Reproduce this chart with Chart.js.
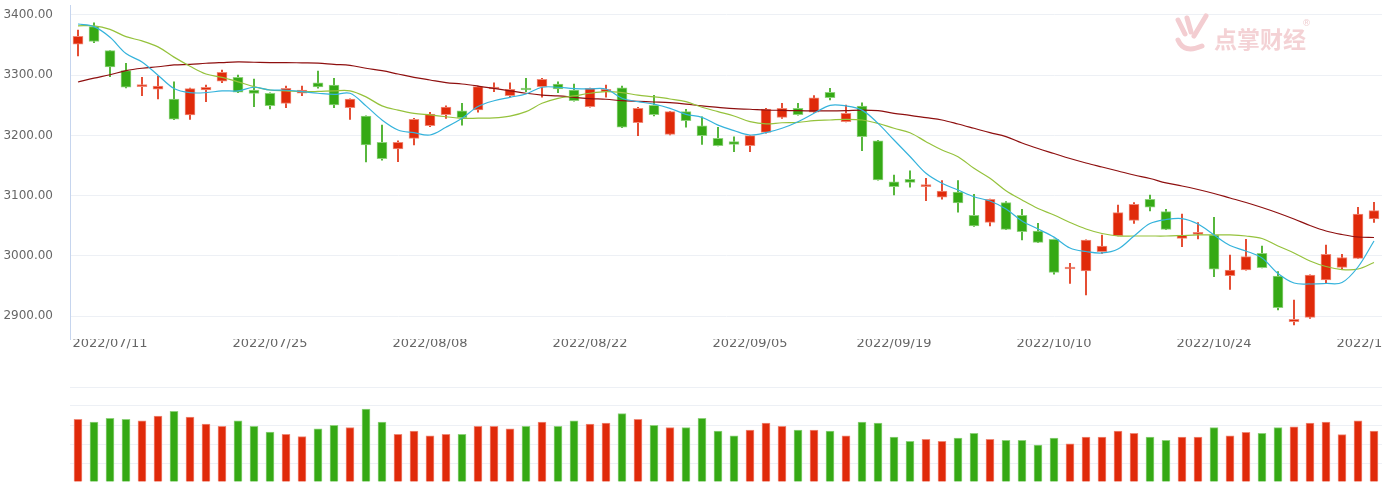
<!DOCTYPE html>
<html>
<head>
<meta charset="utf-8">
<script src="https://cdn.jsdelivr.net/npm/chart.js@4"></script>
<style>
  body { margin: 0; background: #fff; }
  #wrap { position: relative; width: 1383px; height: 482px; overflow: hidden; }
  #priceChart { position: absolute; left: 0; top: 0; }
  #volChart { position: absolute; left: 0; top: 380px; }
  .mark { position: absolute; left: 1172px; top: 12px; width: 140px; height: 44px; pointer-events: none; }
  .mark span { position: absolute; left: 42px; top: 9px; font: bold 23px "Noto Sans CJK SC"; color: #f4d2d5; }
  .mark sup { position: absolute; left: 130px; top: 6px; font: 9px "DejaVu Sans"; color: #f0d0d3; }
</style>
</head>
<body>
<div id="wrap">
  <canvas id="priceChart" width="1383" height="360"></canvas>
  <canvas id="volChart" width="1383" height="102"></canvas>
  <div class="mark">
    <svg width="44" height="44" viewBox="0 0 44 44">
      <g stroke="#f3cdd1" stroke-width="5" stroke-linecap="round" fill="none">
        <path d="M6 8 L13 22"/>
        <path d="M15 6 L19 20"/>
        <path d="M34 4 L22 24"/>
        <path d="M6 28 Q12 42 30 34"/>
      </g>
    </svg>
    <span>点掌财经</span><sup>®</sup>
  </div>
</div>
<script>
// daily candles, 2022/07/07 - 2022/11/07
const dates = [
  "2022/07/07","2022/07/08","2022/07/11","2022/07/12","2022/07/13","2022/07/14","2022/07/15",
  "2022/07/18","2022/07/19","2022/07/20","2022/07/21","2022/07/22","2022/07/25","2022/07/26",
  "2022/07/27","2022/07/28","2022/07/29","2022/08/01","2022/08/02","2022/08/03","2022/08/04",
  "2022/08/05","2022/08/08","2022/08/09","2022/08/10","2022/08/11","2022/08/12","2022/08/15",
  "2022/08/16","2022/08/17","2022/08/18","2022/08/19","2022/08/22","2022/08/23","2022/08/24",
  "2022/08/25","2022/08/26","2022/08/29","2022/08/30","2022/08/31","2022/09/01","2022/09/02",
  "2022/09/05","2022/09/06","2022/09/07","2022/09/08","2022/09/09","2022/09/13","2022/09/14",
  "2022/09/15","2022/09/16","2022/09/19","2022/09/20","2022/09/21","2022/09/22","2022/09/23",
  "2022/09/26","2022/09/27","2022/09/28","2022/09/29","2022/09/30","2022/10/10","2022/10/11",
  "2022/10/12","2022/10/13","2022/10/14","2022/10/17","2022/10/18","2022/10/19","2022/10/20",
  "2022/10/21","2022/10/24","2022/10/25","2022/10/26","2022/10/27","2022/10/28","2022/10/31",
  "2022/11/01","2022/11/02","2022/11/03","2022/11/04","2022/11/07"
];
const tickDates = ["2022/07/11","2022/07/25","2022/08/08","2022/08/22","2022/09/05",
  "2022/09/19","2022/10/10","2022/10/24","2022/11/07"];
const priceTicks = [2900, 3000, 3100, 3200, 3300, 3400];

const openP = [3351.7,3380.6,3340.7,3307.5,3281,3276.6,3260.5,3233.9,3275.4,3289.9,3296.5,3275.4,3270,3253.3,
  3270,3287.5,3283.7,3246,3232,3188.6,3177.7,3195,3216,3234.4,3241,3242.2,3277,3266,3278.2,3281,3285.4,
  3275.4,3247.7,3272.6,3279.2,3221,3250,3201.8,3239.6,3216,3195,3189.6,3182.9,3205,3230,3245,3238.4,
  3271.6,3222.8,3248.8,3191,3123,3127,3114.8,3097.2,3106,3067.3,3055.6,3088.3,3067.3,3041.2,3027.4,
  2978.1,2974.8,3006.8,3033.4,3058.9,3094,3073.3,3029,3035.5,3034.6,2967,2976.4,3004,2966.4,2890.5,
  2897.8,2959.8,2980.6,2995.8,3061.1];
const highP = [3375,3387,3341,3319.8,3296.5,3298.7,3289,3278.5,3283.7,3308.6,3300.3,3293.7,3270.5,3282,
  3282,3307,3295,3260.8,3232.5,3217,3191,3228.4,3238.4,3249.3,3253.3,3282,3287.5,3287.5,3294.8,3294.8,
  3289,3285.4,3278.5,3283.7,3282,3246.7,3266.6,3239.8,3243.4,3231,3213.5,3197.8,3199.8,3245,3253.3,
  3253.3,3266,3278.2,3250.5,3254.3,3191.6,3134.2,3141,3128.7,3124.8,3124.8,3102.2,3094.2,3090,3077.3,
  3054,3027.8,2987.5,3026.5,3034.6,3084.4,3088.2,3101,3077.3,3069.4,3055,3064,3001.3,3027.4,3016.3,
  2973.6,2926.6,2968.5,3017.9,3002.5,3080.6,3088.8];
const lowP = [3332,3354,3297.5,3279,3266,3260.5,3226,3226.7,3256,3287.5,3271,3247.7,3243.8,3246,3266,
  3278.5,3246,3226.7,3156,3159,3156.4,3184,3214.5,3228.4,3217,3238.4,3272.6,3264.3,3272.6,3263.3,3271,
  3257,3247,3263.3,3213,3199.5,3232.2,3200.7,3213.5,3185.2,3182.5,3173,3173,3203.5,3228.4,3233.8,3238,
  3258.8,3222.5,3174.6,3125.5,3101,3113.8,3091.6,3093.9,3072.3,3049,3049.5,3043.5,3026.2,3022,2969.3,
  2954.3,2934.9,3004,3033,3053.9,3074.4,3043.5,3015,3027.9,2965.3,2944.3,2976,2980,2910,2885,2896,
  2955.3,2978,2995.5,3055.6];
const closeP = [3364.4,3356,3313.6,3280,3284.5,3282,3227,3277.6,3280,3304.8,3271.6,3269.8,3249.3,3278.2,
  3275.4,3280.5,3250.5,3260.5,3184,3161.3,3188.6,3226.7,3235.5,3247.2,3229.4,3280.9,3278.5,3276.6,
  3275.4,3293.2,3277.1,3257.6,3278.2,3276.6,3213.5,3245,3234.4,3239.4,3224.5,3199.5,3182.9,3185.2,
  3199.5,3243.9,3245,3234.4,3262.6,3262.6,3236.7,3197.8,3126,3114.8,3122,3117.6,3107.6,3087.7,3049.5,
  3093.9,3044,3040,3022.4,2972.6,2980,3026.2,3016.3,3071.6,3085.5,3080.6,3044,3034.6,3037.7,2977.6,
  2976.4,2998.6,2980.2,2913.8,2894.5,2968.1,3002.5,2997.2,3069.4,3075];

const ma5 = [3385,3380.6,3363,3336,3322,3300,3278,3271,3271,3274,3274,3280,3275.4,3275,3272.6,3270,3268,
  3270,3249,3225.6,3209,3204.5,3200.7,3213.5,3228.4,3248,3257.6,3263.3,3268.8,3280,3280,3277.6,3277.4,
  3277,3261.6,3256,3252,3245,3235,3230,3217,3208,3200.7,3204.5,3211.8,3222.8,3236.7,3250,3249,3242,
  3220,3192.4,3165,3137,3120.4,3109.3,3098,3091,3077.7,3057.8,3044.5,3031,3013,3007.1,3004.7,3011.3,
  3032.9,3053.6,3060.3,3061.9,3052.8,3034.6,3017.1,3008,2996.3,2970.6,2954.8,2953.2,2954,2955.6,
  2981.4,3024.6];
const ma10 = [3382,3382,3376,3364,3357,3347,3330,3315,3302,3296.5,3289,3281,3275.4,3274,3272.6,3273,
  3274,3274,3264,3249,3242,3236.7,3234,3231,3228.4,3228.6,3229,3232,3239.4,3253.3,3261.6,3265.5,3270,
  3272.6,3271,3267,3264,3260.5,3256,3246.7,3239.4,3232.2,3222.8,3219,3221,3221.6,3224.5,3225.6,3226.7,
  3225.6,3220,3211.8,3204.5,3189.6,3175.7,3164.6,3145.3,3128.7,3108,3092.7,3078.6,3067.8,3055.3,
  3044.5,3037,3032.9,3032.9,3032.9,3032.9,3033.7,3034.6,3034.6,3034.6,3032.9,3028.7,3016.3,3004.7,
  2991.4,2982.2,2977.2,2978.1,2988.9];
const ma20 = [3288.7,3295,3300.8,3307.5,3311.5,3314,3317,3318,3319.8,3321,3322,3321.5,3321,3321,3320.5,
  3320,3318,3316.4,3311.5,3307.5,3302,3296.5,3292,3287.6,3285.4,3282,3278,3274,3270,3267,3265.5,
  3263.3,3261,3260,3257.6,3256.6,3255.5,3254.3,3252,3249,3246.7,3244.4,3243.4,3242.2,3241.6,3241,
  3240.7,3240.7,3241.2,3242,3241,3236.7,3233.4,3229.5,3225.6,3219,3211.8,3204.5,3198,3187.4,3178.2,
  3169.9,3161.6,3154.2,3147.5,3140.9,3134.2,3128.4,3121,3116,3110.1,3103.5,3096,3088.5,3080.2,3071.1,
  3061.1,3050.3,3041.2,3035.4,3031.2,3030.4];

const volume = [66.0,63.2,67.1,66.0,64.5,69.5,74.4,68.4,61.1,58.6,64.5,58.6,52.6,50.2,47.7,56.1,59.7,
  57.2,76.8,63.2,50.2,53.7,48.7,50.2,50.2,58.6,58.6,56.1,58.6,63.2,58.6,64.5,61.1,62.1,71.9,66.0,59.7,
  57.2,57.2,67.1,53.7,48.7,54.7,62.1,58.6,54.7,54.7,53.7,48.7,63.2,62.1,47.4,42.8,44.9,42.8,46.3,51.3,
  44.9,43.9,43.9,38.9,46.3,40.3,47.4,47.4,53.7,51.3,47.4,43.9,47.4,47.4,57.2,48.7,52.3,51.3,57.2,58.2,
  62.1,63.2,49.8,64.5,53.7];

const RED = "#e02a0a", GREEN = "#35a915";
const RED_LT = "#f08a78", GREEN_LT = "#8fd27c";
const isUp = closeP.map((c, i) => c >= openP[i]);
const bodyCol = isUp.map(u => (u ? RED : GREEN));
const edgeCol = isUp.map(u => (u ? RED_LT : GREEN_LT));
const GRID = "#edf0f5";

// price chart
const priceCfg = {
  type: "bar",
  data: {
    labels: dates,
    datasets: [
      { type: "line", data: ma5, borderColor: "#35b3dc", borderWidth: 1.2, pointRadius: 0, tension: 0.35, order: 0 },
      { type: "line", data: ma10, borderColor: "#95c23c", borderWidth: 1.2, pointRadius: 0, tension: 0.35, order: 0 },
      { type: "line", data: ma20, borderColor: "#8e0f0f", borderWidth: 1.2, pointRadius: 0, tension: 0.35, order: 0 },
      {
        data: openP.map((o, i) => [o, closeP[i]]),
        backgroundColor: bodyCol, borderColor: edgeCol, borderWidth: 1,
        borderSkipped: false, barThickness: 10, minBarLength: 2, grouped: false, order: 1,
      },
      {
        data: lowP.map((l, i) => [l, highP[i]]),
        backgroundColor: bodyCol, barThickness: 1, grouped: false, order: 2,
      },
    ],
  },
  options: {
    responsive: false,
    animation: false,
    layout: { padding: { top: 5, right: 1, left: 0, bottom: 0 } },
    plugins: { legend: { display: false }, tooltip: { enabled: false } },
    scales: {
      x: {
        offset: true,
        grid: { display: false },
        border: { display: false },
        ticks: {
          autoSkip: false, maxRotation: 0, minRotation: 0, padding: -11,
          color: "#666", font: { family: "DejaVu Sans", size: 13 },
          callback: function (v, i) { return tickDates.includes(dates[i]) ? dates[i] : ""; },
        },
        afterFit: function (s) { s.height = 21; s.paddingLeft = 0; s.paddingRight = 0; },
      },
      y: {
        min: 2861.8,
        max: 3416.6,
        grid: { color: GRID, drawTicks: false },
        border: { display: true, color: "#c6d5ee" },
        ticks: {
          padding: 17, color: "#666", font: { family: "DejaVu Sans", size: 12 },
          callback: function (v) { return v.toFixed(2); },
        },
        afterBuildTicks: function (s) { s.ticks = priceTicks.map(v => ({ value: v })); },
        afterFit: function (s) { s.width = 70; s.paddingTop = 0; s.paddingBottom = 0; },
      },
    },
  },
};
new Chart(document.getElementById("priceChart"), priceCfg);

// volume chart
const volCfg = {
  type: "bar",
  data: {
    labels: dates,
    datasets: [{
      data: volume,
      backgroundColor: bodyCol, borderColor: edgeCol, borderWidth: 1, barThickness: 8,
    }],
  },
  options: {
    responsive: false,
    animation: false,
    layout: { padding: { top: 7, right: 1, left: 0, bottom: 0 } },
    plugins: { legend: { display: false }, tooltip: { enabled: false } },
    scales: {
      x: { display: false, offset: true },
      y: {
        min: 0, max: 100,
        grid: { color: GRID, drawTicks: false },
        border: { display: false },
        ticks: { display: false, stepSize: 20 },
        afterFit: function (s) { s.width = 70; s.paddingTop = 0; s.paddingBottom = 0; },
      },
    },
  },
};
new Chart(document.getElementById("volChart"), volCfg);
</script>
</body>
</html>
